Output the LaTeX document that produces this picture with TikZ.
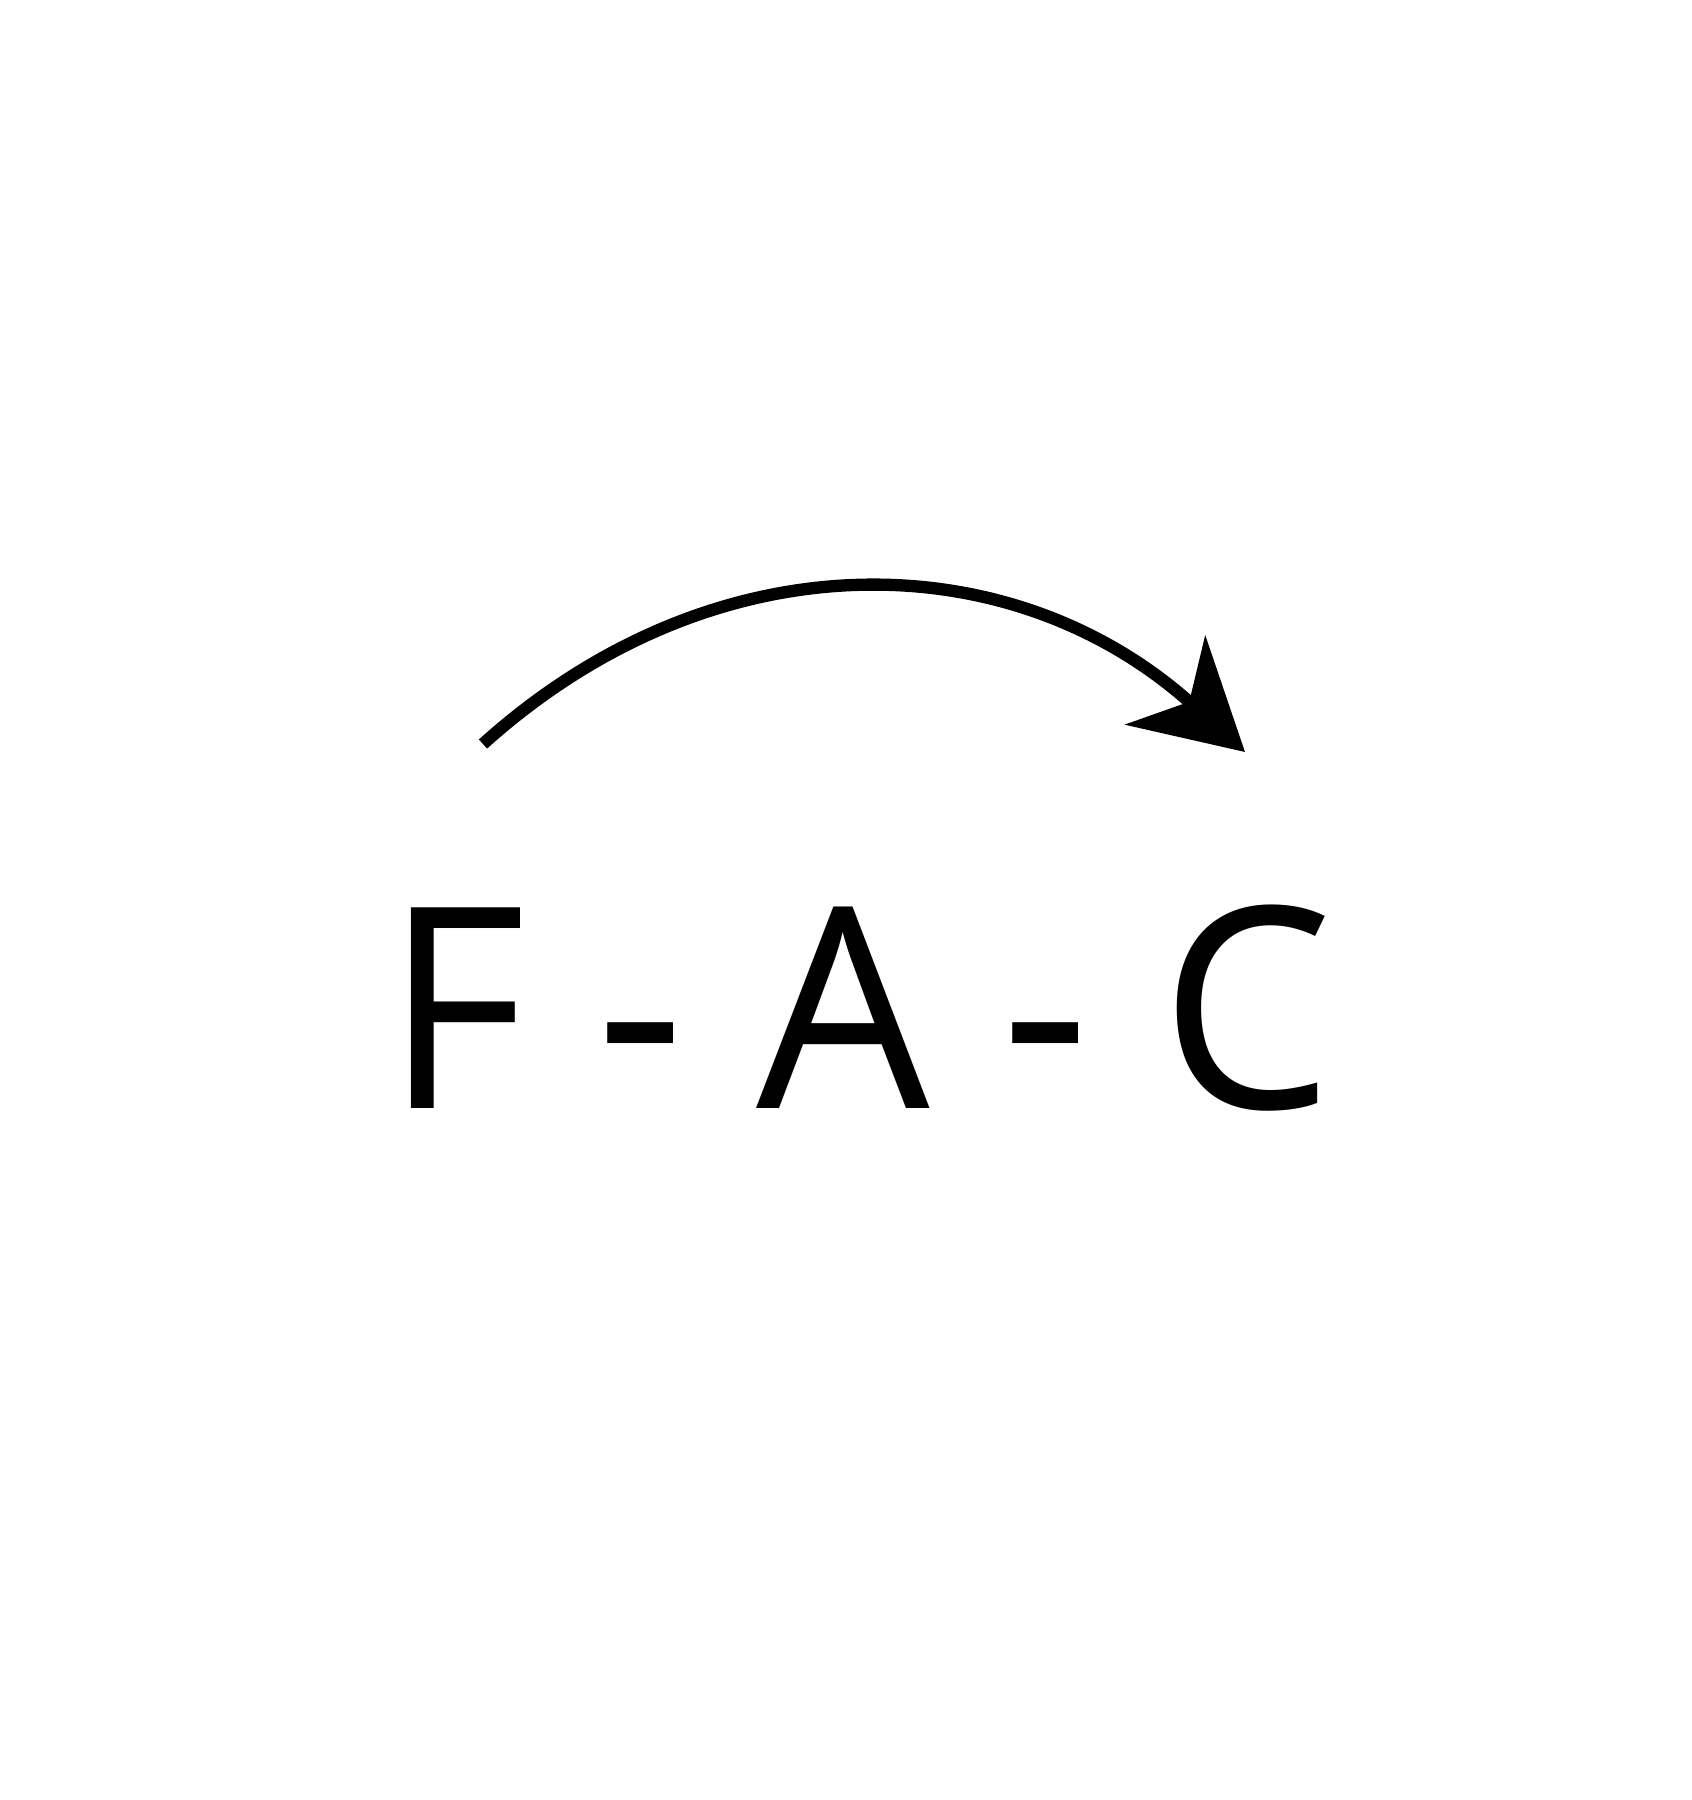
\documentclass[tikz,border=0pt]{standalone}
\usepackage{fontspec}
\setmainfont{Open Sans}
\usetikzlibrary{arrows.meta}
\tikzset{
  lettere/.style = {inner sep=0, font=\fontsize{80}{96}\selectfont, xscale=0.975, transform shape},
  freccia/.style = {line width=3.5pt, -{Stealth[length=10.7mm, width=11.9mm, inset=3.2mm]}}
}
\begin{document}
\begin{tikzpicture}
  \useasboundingbox (0,0) rectangle (16.92,18);
  \node[lettere] (fac) at (8.59,7.92) {F - A - C};
  \coordinate (s) at (4.83,10.56);
  \coordinate (t) at (12.45,10.48);
  \draw[freccia] (s) to[out=42, in=138, looseness=1.05] (t);
\end{tikzpicture}
\end{document}
